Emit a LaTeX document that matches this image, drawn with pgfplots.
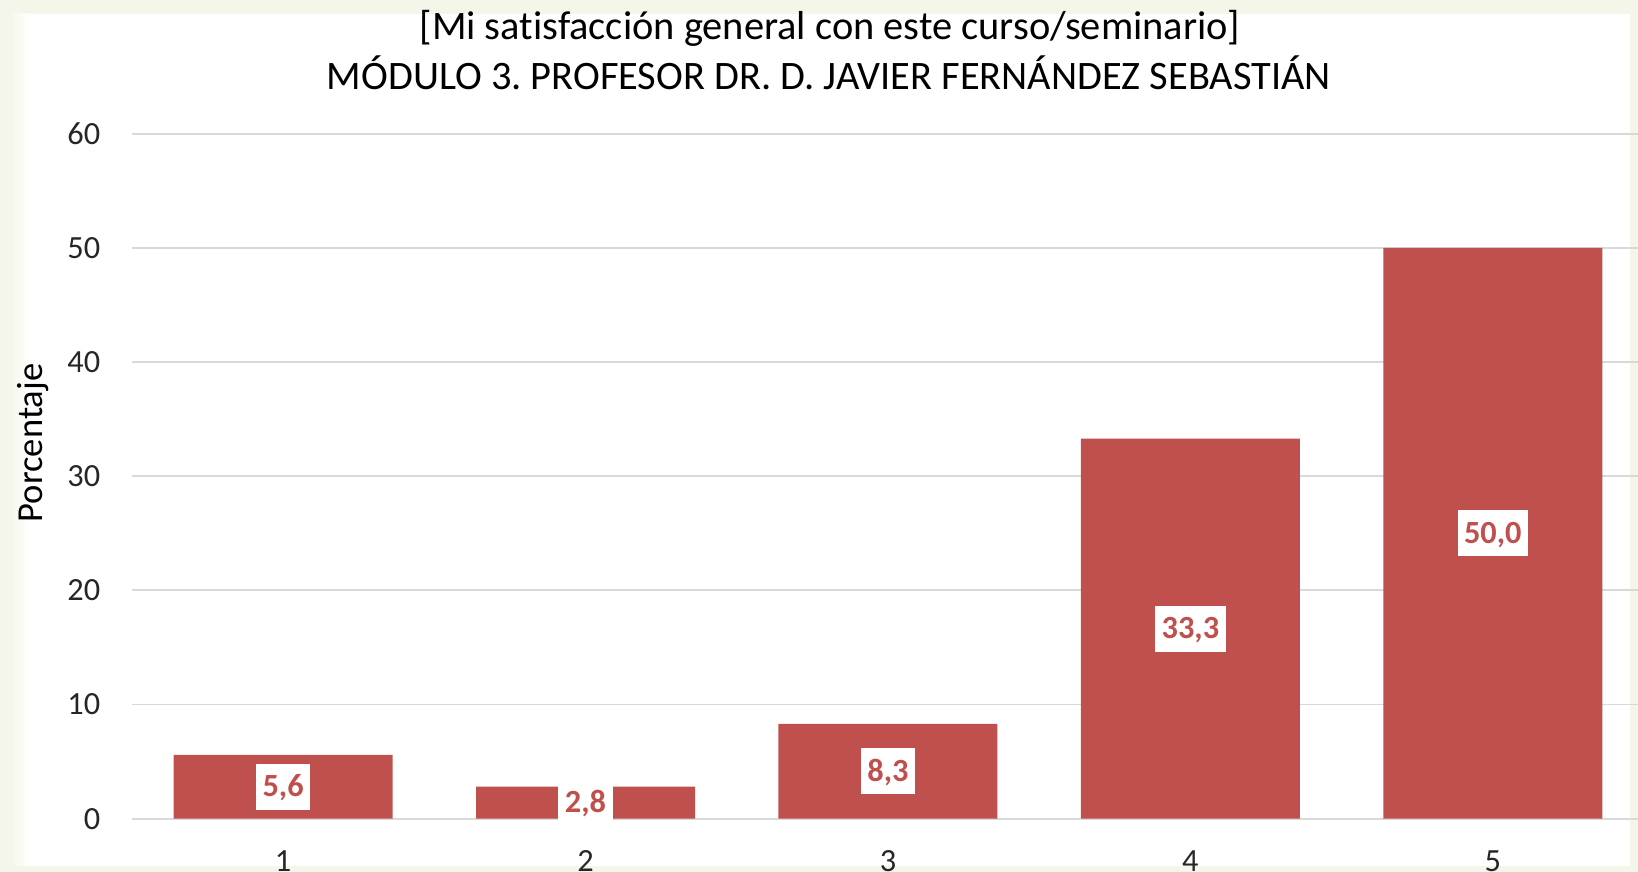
\documentclass[border=0pt]{standalone}
\usepackage{fontspec}
\setmainfont{Carlito}[Ligatures=NoCommon]
\usepackage{pgfplots}
\pgfplotsset{compat=1.18}
\definecolor{barred}{HTML}{C0504D}
\definecolor{gridgray}{HTML}{D9D9D9}
\definecolor{cream}{HTML}{F5F6EA}
\frenchspacing
\begin{document}
\begin{tikzpicture}
\useasboundingbox (0,0) rectangle (16.38cm,8.72cm);
\fill[cream] (0,0) rectangle (16.38cm,8.72cm);
\fill[white] (0.24cm,0.06cm) rectangle (16.30cm,8.58cm);
\shade[left color=cream,right color=white] (0.10cm,0.06cm) rectangle (0.30cm,8.58cm);
\begin{axis}[
  at={(1.319cm,0.533cm)}, anchor=south west,
  scale only axis, width=15.061cm, height=6.85cm,
  xmin=0.5, xmax=5.48, ymin=0, ymax=60,
  ybar, bar width=0.724,
  xtick={1,2,3,4,5}, ytick={0,10,20,30,40,50,60},
  axis line style={draw=none}, major tick length=0pt,
  ymajorgrids, major grid style={color=gridgray, line width=0.018cm},
  /pgf/number format/assume math mode=true,
  ticklabel style={inner sep=0pt, font=\fontsize{9.2}{10}\selectfont, text=black!85},
  yticklabel style={anchor=east, xshift=-0.31cm},
  xticklabel style={anchor=north, yshift=-0.31cm},
  clip=false,
]
\addplot[fill=barred, draw=none,
  nodes near coords={\pgfmathprintnumber[fixed, fixed zerofill, precision=1, use comma, assume math mode=true]{\pgfplotspointmeta}},
  nodes near coords align=center,
  visualization depends on={y \as \rawy},
  every node near coord/.append style={anchor=center, yshift=-\rawy*0.05708cm,
    fill=white, text=barred, font=\bfseries\fontsize{9.2}{10}\selectfont,
    inner xsep=0.065cm, inner ysep=0pt, text height=0.205cm, text depth=0cm, minimum height=0.46cm},
] coordinates {(1,5.6) (2,2.8) (3,8.3) (4,33.3) (5,50.0)};
\end{axis}
\node[anchor=base, font=\fontsize{11.5}{13}\selectfont] at (8.30cm,8.32cm) {[Mi satisfacción general con este curso/seminario]};
\node[anchor=base, font=\fontsize{11.5}{13}\selectfont] at (8.29cm,7.827cm) {MÓDULO 3. PROFESOR DR. D. JAVIER FERNÁNDEZ SEBASTIÁN};
\node[rotate=90, font=\fontsize{10.4}{12}\selectfont] at (0.33cm,4.29cm) {Porcentaje};
\end{tikzpicture}
\end{document}
